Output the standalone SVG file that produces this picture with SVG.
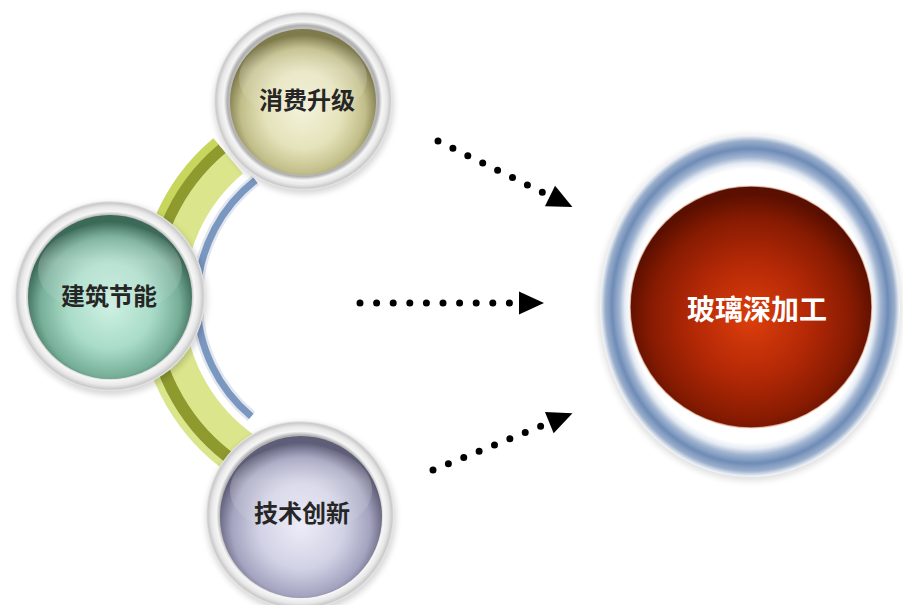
<svg xmlns="http://www.w3.org/2000/svg" width="903" height="605" viewBox="0 0 903 605">
<style>
.lbl{font-family:"Noto Sans CJK SC","Noto Sans CJK JP",sans-serif;font-size:24px;font-weight:700;fill:#262626;text-anchor:middle;dominant-baseline:central}
.big{font-family:"Noto Sans CJK SC","Noto Sans CJK JP",serif;font-size:28px;font-weight:700;fill:#ffffff;text-anchor:middle;dominant-baseline:central}
.conn{fill:none;stroke:#000;stroke-width:7;stroke-linecap:round;stroke-dasharray:0 16.6}
.ring{fill:url(#ringG)}
.shadow{fill:#000;opacity:0.16;filter:url(#blur)}
.hl{fill:url(#hlG)}
</style>
<defs>
<filter id="blur" x="-20%" y="-20%" width="140%" height="140%"><feGaussianBlur stdDeviation="3"/></filter>
<radialGradient id="ringG" cx="50%" cy="50%" r="50%">
<stop offset="0" stop-color="#d0d0d0"/>
<stop offset="0.80" stop-color="#c4c4c4"/>
<stop offset="0.85" stop-color="#b0b0b0"/>
<stop offset="0.89" stop-color="#f6f6f6"/>
<stop offset="0.94" stop-color="#e8e8e8"/>
<stop offset="0.98" stop-color="#cacaca"/>
<stop offset="1" stop-color="#ececec"/>
</radialGradient>
<linearGradient id="hlG" x1="0" y1="0" x2="0" y2="1">
<stop offset="0" stop-color="#fff" stop-opacity="0"/>
<stop offset="0.4" stop-color="#fff" stop-opacity="0.22"/>
<stop offset="1" stop-color="#fff" stop-opacity="0"/>
</linearGradient>
<radialGradient id="sphY" cx="50%" cy="56%" r="52%">
<stop offset="0" stop-color="#f3f2da"/>
<stop offset="0.5" stop-color="#e5e3bb"/>
<stop offset="0.82" stop-color="#c2be8a"/>
<stop offset="1" stop-color="#7f7b4c"/>
</radialGradient>
<radialGradient id="sphG" cx="50%" cy="56%" r="52%">
<stop offset="0" stop-color="#cdf0e2"/>
<stop offset="0.5" stop-color="#a9dcc8"/>
<stop offset="0.82" stop-color="#76ae98"/>
<stop offset="1" stop-color="#3c6a58"/>
</radialGradient>
<radialGradient id="sphB" cx="50%" cy="56%" r="52%">
<stop offset="0" stop-color="#ececf8"/>
<stop offset="0.5" stop-color="#d2d2e6"/>
<stop offset="0.82" stop-color="#a4a4c0"/>
<stop offset="1" stop-color="#5e5e78"/>
</radialGradient>
<radialGradient id="bigRing" cx="50%" cy="50%" r="50%">
<stop offset="0" stop-color="#ffffff"/>
<stop offset="0.80" stop-color="#ffffff"/>
<stop offset="0.835" stop-color="#e6ecf4"/>
<stop offset="0.87" stop-color="#a3b6d2"/>
<stop offset="0.92" stop-color="#6e8cb7"/>
<stop offset="0.965" stop-color="#9aaecb"/>
<stop offset="0.99" stop-color="#dfe6ef"/>
<stop offset="1" stop-color="#f6f8fb"/>
</radialGradient>
<radialGradient id="red" cx="50%" cy="55%" r="52%">
<stop offset="0" stop-color="#dc3e0c"/>
<stop offset="0.45" stop-color="#b52906"/>
<stop offset="0.8" stop-color="#871b02"/>
<stop offset="1" stop-color="#5a0f00"/>
</radialGradient>
<marker id="ah" markerUnits="userSpaceOnUse" markerWidth="26" markerHeight="24" refX="0" refY="11.5" orient="auto" viewBox="0 0 26 24" overflow="visible">
<path d="M0,0 L25,11.5 L0,23 z" fill="#000"/>
</marker>
</defs>
<rect width="903" height="605" fill="#fff"/>

<g id="arc-band">
<path d="M228.2,156 A188,188 0 0 0 241.2,454" fill="none" stroke="#dbe58c" stroke-width="46"/>
<path d="M221.7,148.3 A198,198 0 0 0 235.4,462.2" fill="none" stroke="#8e992e" stroke-width="12"/>
<path d="M215.9,141.4 A207,207 0 0 0 142.8,318" fill="none" stroke="#c9d65e" stroke-width="8"/>
<path d="M255.4,180.2 A152,152 0 0 0 251.3,416.4" fill="none" stroke="#e2e6ee" stroke-width="12"/>
<path d="M255.4,180.2 A152,152 0 0 0 251.3,416.4" fill="none" stroke="#7a97c0" stroke-width="7"/>
</g>

<g id="connectors">
<path class="conn" d="M438,141 L550,196" marker-end="url(#ah)"/>
<path class="conn" d="M360,303 L519,303" marker-end="url(#ah)"/>
<path class="conn" d="M433,470 L549.3,422.6" marker-end="url(#ah)"/>
</g>

<g id="node-xiaofei">
<circle class="shadow" cx="304" cy="104" r="90"/>
<circle class="ring" cx="303" cy="101" r="89"/>
<circle cx="303" cy="102" r="73" fill="url(#sphY)"/>
<ellipse class="hl" cx="303" cy="78" rx="64" ry="42"/>
<text class="lbl" x="307" y="98">消费升级</text>
</g>

<g id="node-jianzhu">
<circle class="shadow" cx="111" cy="299" r="96"/>
<circle class="ring" cx="110" cy="296" r="95"/>
<circle cx="110" cy="297" r="82" fill="url(#sphG)"/>
<ellipse class="hl" cx="110" cy="270" rx="72" ry="46"/>
<text class="lbl" x="109" y="294">建筑节能</text>
</g>

<g id="node-jishu">
<circle class="shadow" cx="301" cy="518" r="95"/>
<circle class="ring" cx="300" cy="515" r="94"/>
<circle cx="301" cy="517" r="81" fill="url(#sphB)"/>
<ellipse class="hl" cx="301" cy="490" rx="71" ry="45"/>
<text class="lbl" x="302" y="511">技术创新</text>
</g>

<g id="node-boli">
<ellipse cx="750" cy="308" rx="152" ry="173" fill="#000" opacity="0.12" filter="url(#blur)"/>
<ellipse cx="750" cy="306" rx="150" ry="171" fill="url(#bigRing)"/>
<circle cx="751" cy="307" r="121" fill="url(#red)" stroke="#f4d8c8" stroke-width="1.5" stroke-opacity="0.7"/>
<text class="big" x="757" y="308">玻璃深加工</text>
</g>
</svg>
